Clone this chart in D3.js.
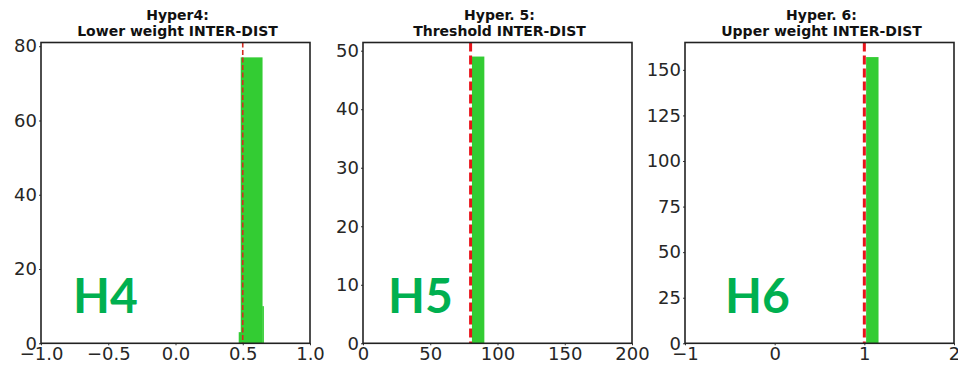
<!DOCTYPE html>
<html>
<head>
<meta charset="utf-8">
<script src="https://cdn.jsdelivr.net/npm/d3@7"></script>
<style>
  body { margin: 0; background: #fff; }
  svg { display: block; }
</style>
</head>
<body>
<div id="app"></div>
<script>
// Panel data
const titles = [
    ['Hyper4:', 'Lower weight INTER-DIST'],
    ['Hyper. 5:', 'Threshold INTER-DIST'],
    ['Hyper. 6:', 'Upper weight INTER-DIST']
];
const labels = ['H4', 'H5', 'H6'];
const xDomains = [[-1, 1], [0, 200], [-1, 2]];
const yDomains = [[0, 81], [0, 51.4], [0, 165]];
const xTicks = [[-1, -0.5, 0, 0.5, 1], [0, 50, 100, 150, 200], [-1, 0, 1, 2]];
const yTicks = [[0, 20, 40, 60, 80], [0, 10, 20, 30, 40, 50], [0, 25, 50, 75, 100, 125, 150]];
const xFormats = ['.1f', 'd', 'd'];
const thresholds = [0.5, 80, 1];

// histogram bins per panel: [x0, x1, count]
const bins4 = [[0.47, 0.485, 3], [0.485, 0.645, 77], [0.645, 0.655, 10]];
const bins5 = [[81, 90, 49]];
const bins6 = [[1.02, 1.155, 157]];
const allBins = [bins4, bins5, bins6];

const width = 958, height = 366;
const panelLeft = [41, 363, 685];
const plotW = 269;
const plotTop = 42.5, plotBottom = 343.3;

const svg = d3.select('#app').append('svg')
    .attr('width', width)
    .attr('height', height)
    .style('background', '#fff');

titles.forEach((title, i) => {
    const x = d3.scaleLinear().domain(xDomains[i]).range([panelLeft[i], panelLeft[i] + plotW]);
    const y = d3.scaleLinear().domain(yDomains[i]).range([plotBottom, plotTop]);

    const g = svg.append('g');

    // bars
    g.selectAll('rect.bar')
        .data(allBins[i])
        .enter().append('rect')
        .attr('class', 'bar')
        .attr('x', d => x(d[0]))
        .attr('y', d => y(d[2]))
        .attr('width', d => x(d[1]) - x(d[0]) + 0.3)
        .attr('height', d => y(0) - y(d[2]))
        .attr('fill', '#33cc33');

    // threshold line
    const thin = i === 0;
    g.append('line')
        .attr('x1', x(thresholds[i]))
        .attr('x2', x(thresholds[i]))
        .attr('y1', plotTop)
        .attr('y2', plotBottom)
        .attr('stroke', thin ? '#d42a20' : '#e8141b')
        .attr('stroke-width', thin ? 1.6 : 3)
        .attr('stroke-dasharray', thin ? '5,2.5' : '9,4');

    // axes
    const fmt = d3.format(xFormats[i]);
    const xAxis = g.append('g')
        .attr('transform', `translate(0,${plotBottom})`)
        .call(d3.axisBottom(x).tickValues(xTicks[i]).tickSize(2).tickPadding(2)
            .tickFormat(d => fmt(d).replace('-', '\u2212')));
    const yAxis = g.append('g')
        .attr('transform', `translate(${panelLeft[i]},0)`)
        .call(d3.axisLeft(y).tickValues(yTicks[i]).tickSize(2).tickPadding(2));

    [xAxis, yAxis].forEach(a => {
        a.select('.domain').remove();
        a.selectAll('line').attr('stroke', '#333');
        a.selectAll('text')
            .attr('fill', '#262626')
            .style('font-size', '18px')
            .style('font-family', '"DejaVu Sans", sans-serif');
    });

    // frame
    g.append('rect')
        .attr('x', panelLeft[i])
        .attr('y', plotTop)
        .attr('width', plotW)
        .attr('height', plotBottom - plotTop)
        .attr('fill', 'none')
        .attr('stroke', '#222')
        .attr('stroke-width', 1.6);

    // title
    const cx = panelLeft[i] + plotW / 2 + 2;
    const t = g.append('text')
        .attr('text-anchor', 'middle')
        .attr('fill', '#111')
        .style('font-size', '14px')
        .style('font-weight', 'bold')
        .style('font-family', '"DejaVu Sans", sans-serif');
    t.append('tspan').attr('x', cx).attr('y', 20).text(title[0]);
    t.append('tspan').attr('x', cx).attr('y', 36).text(title[1]);

    // big panel label
    g.append('text')
        .attr('x', [73, 388, 725][i])
        .attr('y', 313)
        .attr('fill', '#00b050')
        .style('font-size', '48px')
        .style('font-weight', 'bold')
        .style('font-family', 'Lato, sans-serif')
        .text(labels[i]);
});
</script>
</body>
</html>
